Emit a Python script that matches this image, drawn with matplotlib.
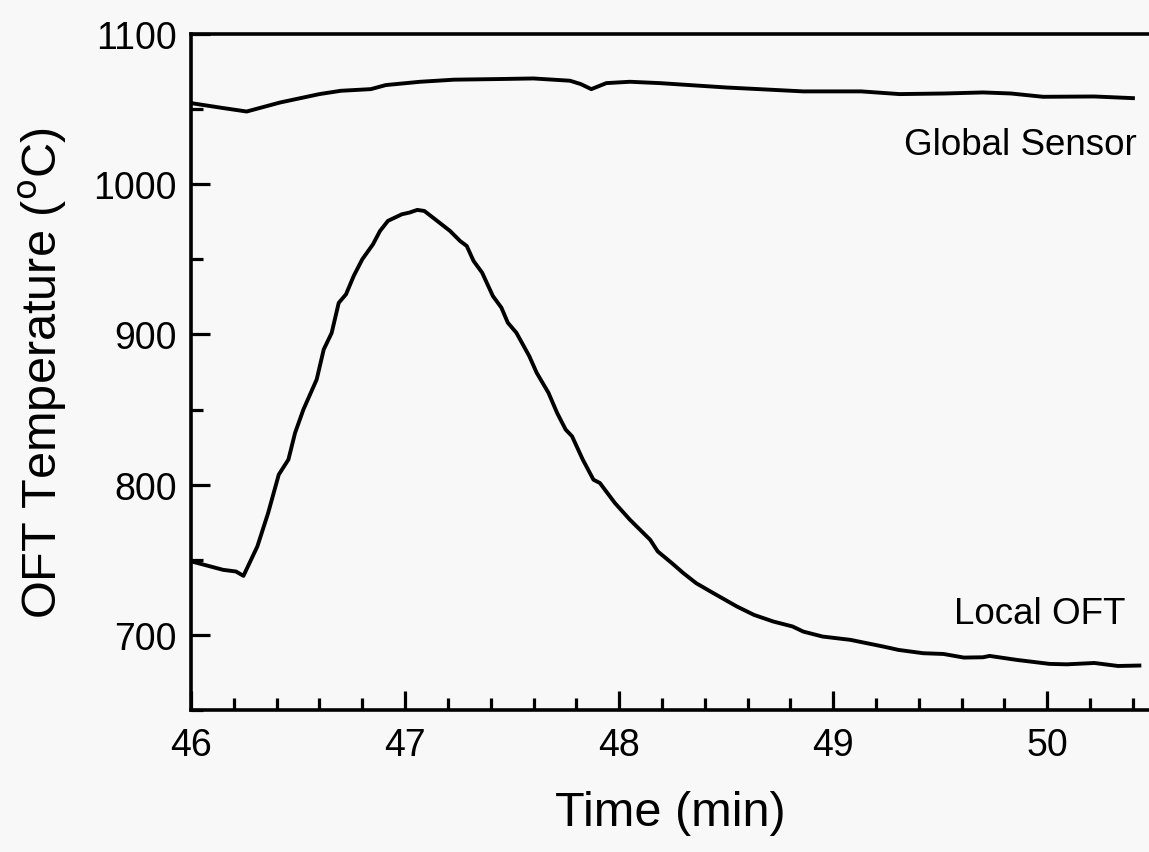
import matplotlib
matplotlib.use("Agg")
import matplotlib.pyplot as plt
from matplotlib.ticker import MultipleLocator

plt.rcParams['font.family'] = ['Liberation Sans', 'DejaVu Sans']

# Local OFT curve
local_time = [46.00, 46.15, 46.21, 46.245, 46.31, 46.36, 46.41, 46.455, 46.486, 46.525,
              46.587, 46.62, 46.657, 46.69, 46.724, 46.76, 46.80, 46.85, 46.883, 46.92,
              46.985, 47.02, 47.057, 47.09, 47.13, 47.21, 47.257, 47.288, 47.32, 47.36,
              47.41, 47.45, 47.48, 47.52, 47.58, 47.615, 47.67, 47.71, 47.75, 47.78,
              47.83, 47.88, 47.91, 47.98, 48.05, 48.145, 48.18, 48.25, 48.30, 48.36,
              48.44, 48.55, 48.63, 48.72, 48.81, 48.86, 48.95, 49.08, 49.235, 49.305,
              49.42, 49.515, 49.61, 49.70, 49.73, 49.86, 50.01, 50.09, 50.22, 50.33, 50.43]
local_temp = [749, 743.3, 742.2, 739.3, 758.9, 781, 806.7, 816.7, 834.4, 850,
              870, 890, 901, 921, 926.7, 938.9, 950, 960, 968.9, 975.6,
              980, 981.1, 982.9, 982.2, 977.8, 968.9, 962.2, 958.9, 948.9, 941.1,
              925.6, 917.8, 907.8, 901.1, 885.6, 874.4, 861.1, 847.8, 836.7, 832.2,
              816.7, 803.3, 801.1, 787.8, 776.7, 763.3, 755.6, 747.3, 741.1, 734.4,
              727.8, 718.9, 713.3, 708.9, 705.6, 702.2, 698.9, 696.7, 692.2, 690,
              687.8, 687.3, 684.9, 685.1, 686, 683.3, 680.7, 680.4, 681.3, 679.3, 679.6]

# Global sensor curve
global_time = [46.00, 46.15, 46.26, 46.416, 46.60, 46.70, 46.84, 46.91, 47.07, 47.23,
               47.43, 47.60, 47.77, 47.82, 47.87, 47.94, 48.05, 48.19, 48.50, 48.86,
               49.13, 49.31, 49.52, 49.70, 49.83, 49.98, 50.22, 50.40]
global_temp = [1054, 1050.7, 1048.4, 1054.4, 1060, 1062.2, 1063.3, 1066, 1068.2, 1069.6,
               1070, 1070.4, 1068.9, 1066.7, 1063.3, 1067.3, 1068.2, 1067.3, 1064.4, 1061.8,
               1061.8, 1060, 1060.4, 1061.1, 1060.4, 1058.2, 1058.4, 1057.3]

x_ticks = [46, 47, 48, 49, 50]
y_ticks = [700, 800, 900, 1000, 1100]

bg = '#f8f8f8'
fig = plt.figure(figsize=(11.49, 8.53), dpi=100, facecolor=bg)
ax = fig.add_axes([191/1149, (853-711)/853, 1 - 191/1149, (711-35)/853])
ax.set_facecolor(bg)

ax.plot(global_time, global_temp, color='black', lw=2.8, solid_joinstyle='round')
ax.plot(local_time, local_temp, color='black', lw=2.8, solid_joinstyle='round')

ax.set_xlim(46, 50.475)
ax.set_ylim(650, 1100)
ax.set_xticks(x_ticks)
ax.set_yticks(y_ticks)
ax.xaxis.set_minor_locator(MultipleLocator(0.2))
ax.yaxis.set_minor_locator(MultipleLocator(50))
ax.tick_params(which='major', direction='in', length=14, width=2.3, labelsize=27,
               top=False, right=False, pad=12)
ax.tick_params(which='minor', direction='in', length=8.5, width=2.3,
               top=False, right=False)
ax.tick_params(axis='y', which='major', pad=10)

for s in ['left', 'bottom', 'top']:
    ax.spines[s].set_linewidth(2.6)
ax.spines['right'].set_visible(False)

ax.set_xlabel('Time (min)', fontsize=35, labelpad=20)
ax.set_ylabel('OFT Temperature ($^{\\rm o}$C)', fontsize=35, labelpad=18)

ax.text(50.416, 1020, 'Global Sensor', fontsize=26.5, ha='right', va='baseline')
ax.text(50.364, 708, 'Local OFT', fontsize=26.5, ha='right', va='baseline')

fig.savefig('out.png', dpi=100, facecolor=bg)
